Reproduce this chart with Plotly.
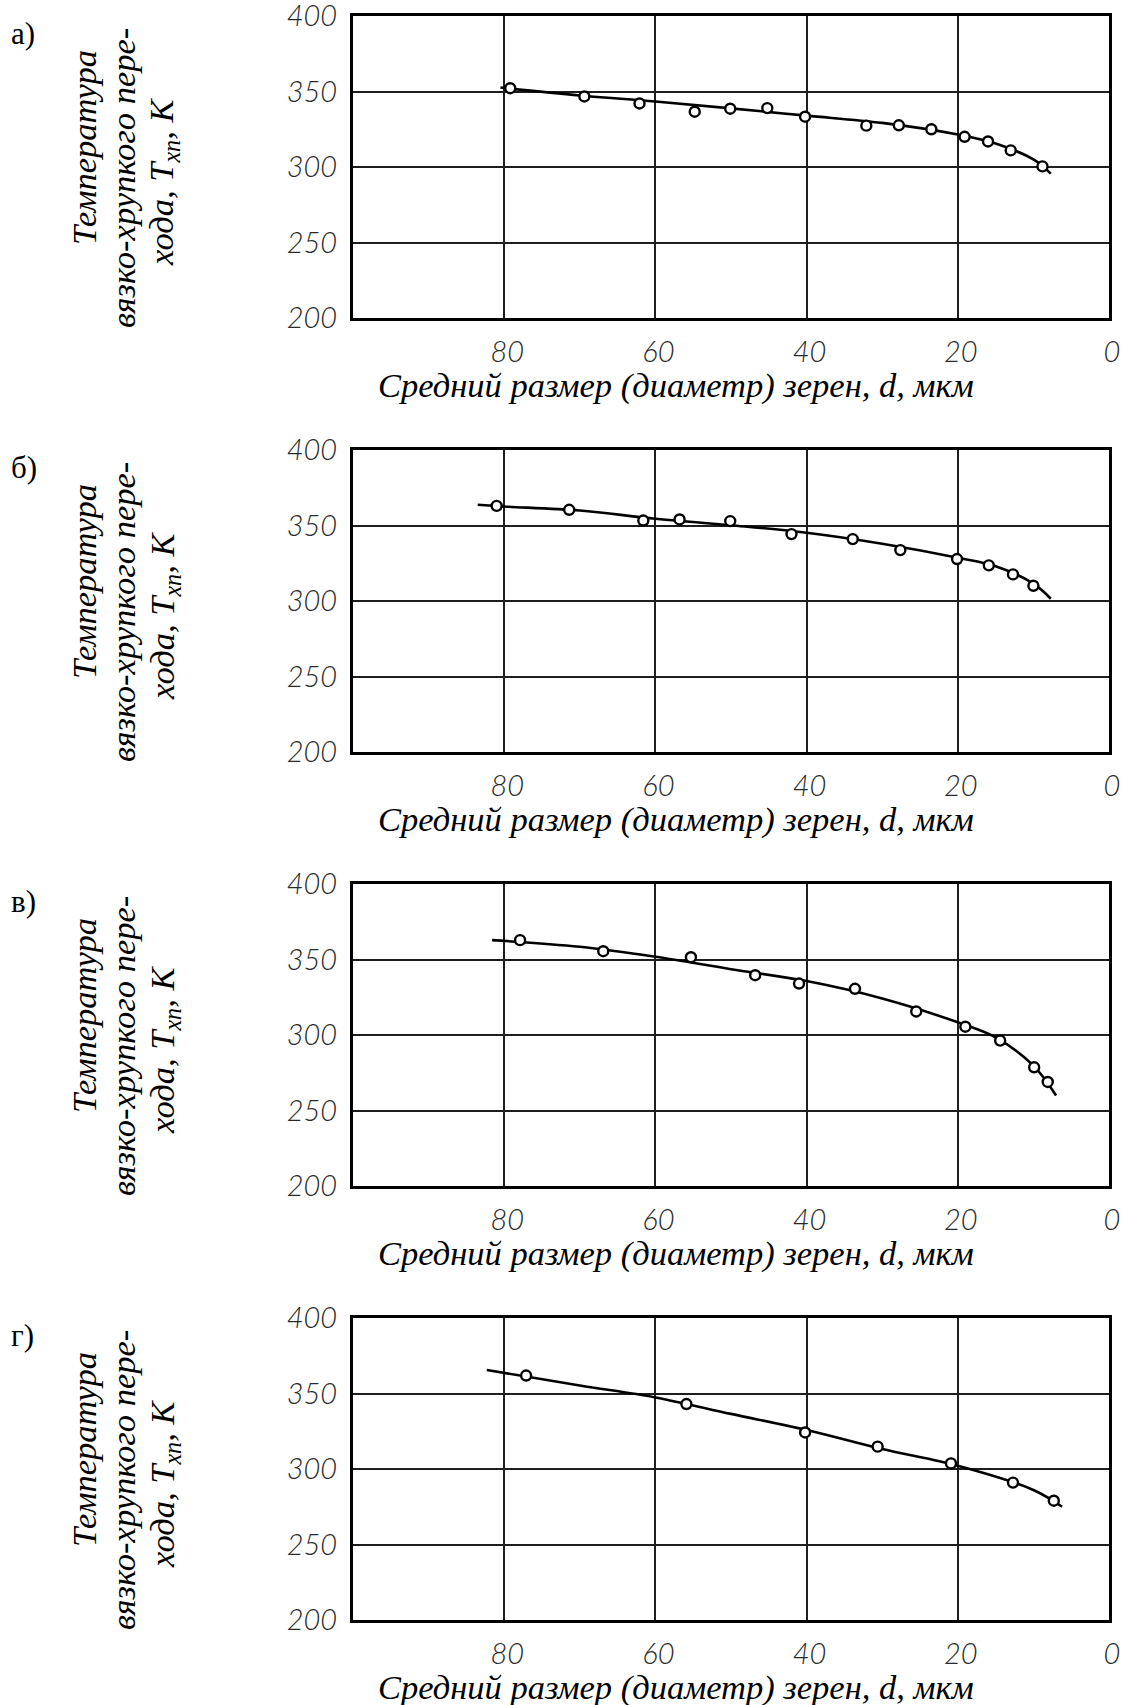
import plotly.graph_objects as go

# ---------------- data ----------------
panel_labels = ["а)", "б)", "в)", "г)"]
x_tick_vals = [80, 60, 40, 20, 0]
x_tick_text = ["80", "60", "40", "20", "0"]
y_tick_vals = [400, 350, 300, 250, 200]
y_tick_text = ["400", "350", "300", "250", "200"]
x_title = "Средний размер (диаметр) зерен, <i>d</i>, мкм"
y_title_lines = ["Температура", "вязко-хрупкого пере-", "хода, T<sub>хп</sub>, К"]

# panel а)
a_d = [79.2, 69.4, 62.1, 54.8, 50.1, 45.2, 40.2, 32.1, 27.8, 23.5, 19.1, 16.0, 13.0, 8.8]
a_T = [352.2, 346.7, 342.1, 336.6, 338.6, 339.0, 333.3, 327.4, 327.6, 325.0, 320.0, 316.9, 311.0, 300.4]
a_fit_d = [80.5, 70, 60, 50, 40, 30, 20, 15, 10, 7.7]
a_fit_T = [352.6, 347.4, 343.4, 338.8, 334.0, 329.2, 321.5, 315.5, 305.0, 295.6]

# panel б)
b_d = [81.0, 71.4, 61.6, 56.8, 50.1, 42.0, 33.9, 27.6, 20.1, 15.9, 12.7, 10.0]
b_T = [363.0, 360.4, 353.3, 354.0, 352.9, 344.3, 341.0, 333.7, 327.8, 323.6, 317.6, 310.1]
b_fit_d = [83.5, 80, 70, 60, 50, 40, 30, 20, 15, 10, 7.7]
b_fit_T = [363.7, 362.6, 359.9, 354.5, 350.2, 345.2, 337.9, 328.6, 323.0, 311.5, 301.5]

# panel в)
c_d = [77.9, 66.9, 55.3, 46.8, 41.0, 33.6, 25.5, 19.0, 14.4, 9.9, 8.1]
c_T = [362.8, 355.5, 351.5, 339.6, 334.1, 330.6, 315.6, 305.5, 296.3, 278.6, 268.9]
c_fit_d = [81.6, 70, 60, 50, 40, 30, 20, 15, 10, 7.0]
c_fit_T = [362.8, 358.4, 351.8, 343.6, 335.7, 324.2, 308.4, 298.5, 279.7, 259.9]

# panel г)
d_d = [77.1, 55.9, 40.2, 30.6, 20.9, 12.7, 7.3]
d_T = [361.9, 343.0, 324.2, 314.8, 303.7, 291.0, 279.0]
d_fit_d = [82.3, 70, 60, 50, 40, 30, 20, 10, 6.2]
d_fit_T = [365.6, 355.3, 347.4, 336.5, 325.8, 313.2, 302.2, 286.1, 275.0]

panels = [
    (a_d, a_T, a_fit_d, a_fit_T),
    (b_d, b_T, b_fit_d, b_fit_T),
    (c_d, c_T, c_fit_d, c_fit_T),
    (d_d, d_T, d_fit_d, d_fit_T),
]

# ---------------- geometry (page pixels) ----------------
W, H = 1122, 1705
plot_left, plot_right = 353, 1109
panel_tops = [16, 450, 884, 1318]
panel_h = 302


def px(x):
    return x / W


def py(y):
    return 1 - y / H


tick_font = dict(family="Lato", size=29, color="#2a2a2a", weight=300)
title_font = dict(family="Liberation Serif", size=34.5, color="black", style="italic")
label_font = dict(family="Liberation Serif", size=31, color="black")

fig = go.Figure()
layout = dict(
    width=W, height=H,
    margin=dict(l=0, r=0, t=0, b=0, autoexpand=False),
    paper_bgcolor="white", plot_bgcolor="white",
    showlegend=False,
)
annotations = []

for i, (dd, tt, fd, ft) in enumerate(panels):
    n = "" if i == 0 else str(i + 1)
    xa, ya = "x" + n, "y" + n
    top = panel_tops[i]
    bot = top + panel_h

    fig.add_trace(go.Scatter(
        x=fd, y=ft, mode="lines", xaxis=xa, yaxis=ya,
        line=dict(color="black", width=2.6, shape="spline", smoothing=1.0),
        hoverinfo="skip"))
    fig.add_trace(go.Scatter(
        x=dd, y=tt, mode="markers", xaxis=xa, yaxis=ya,
        marker=dict(symbol="circle", size=10, color="white",
                    line=dict(color="black", width=2.4))))

    layout["xaxis" + n] = dict(
        domain=[px(plot_left), px(plot_right)], anchor=ya, automargin=False,
        range=[100, 0], tickvals=x_tick_vals,
        ticktext=["<i>" + t + "</i>" for t in x_tick_text],
        showgrid=True, gridcolor="#1e1e1e", gridwidth=1.6, zeroline=False,
        showline=True, mirror=True, linecolor="black", linewidth=3.2,
        ticks="", tickfont=tick_font, ticklabelstandoff=6, ticklabelshift=-3,
        ticklabeloverflow="allow",
    )
    layout["yaxis" + n] = dict(
        domain=[py(bot), py(top)], anchor=xa, automargin=False,
        range=[200, 400], tickvals=y_tick_vals,
        ticktext=["<i>" + t + "</i>" for t in y_tick_text],
        showgrid=True, gridcolor="#1e1e1e", gridwidth=1.6, zeroline=False,
        showline=True, mirror=True, linecolor="black", linewidth=3.2,
        ticks="", tickfont=tick_font, ticklabelstandoff=7,
        ticklabeloverflow="allow",
    )

    # x-axis title
    annotations.append(dict(
        text=x_title, x=px(676), y=py(bot + 67),
        xref="paper", yref="paper", xanchor="center", yanchor="middle",
        showarrow=False, font=title_font))
    # y-axis title (three rotated lines)
    for xc, yc, line in zip([84, 123, 164], [top + 132, top + 162, top + 166], y_title_lines):
        annotations.append(dict(
            text=line, x=px(xc), y=py(yc), xref="paper", yref="paper",
            xanchor="center", yanchor="middle", textangle=-90,
            showarrow=False, font=title_font))
    # panel label
    annotations.append(dict(
        text=panel_labels[i], x=px(9), y=py(top + 17), xref="paper", yref="paper",
        xanchor="left", yanchor="middle", showarrow=False, font=label_font))

layout["annotations"] = annotations
fig.update_layout(**layout)
fig.write_html(
    "out.html",
    config={"displayModeBar": False},
    post_script="document.body.style.margin='0';document.body.style.padding='0';",
)
